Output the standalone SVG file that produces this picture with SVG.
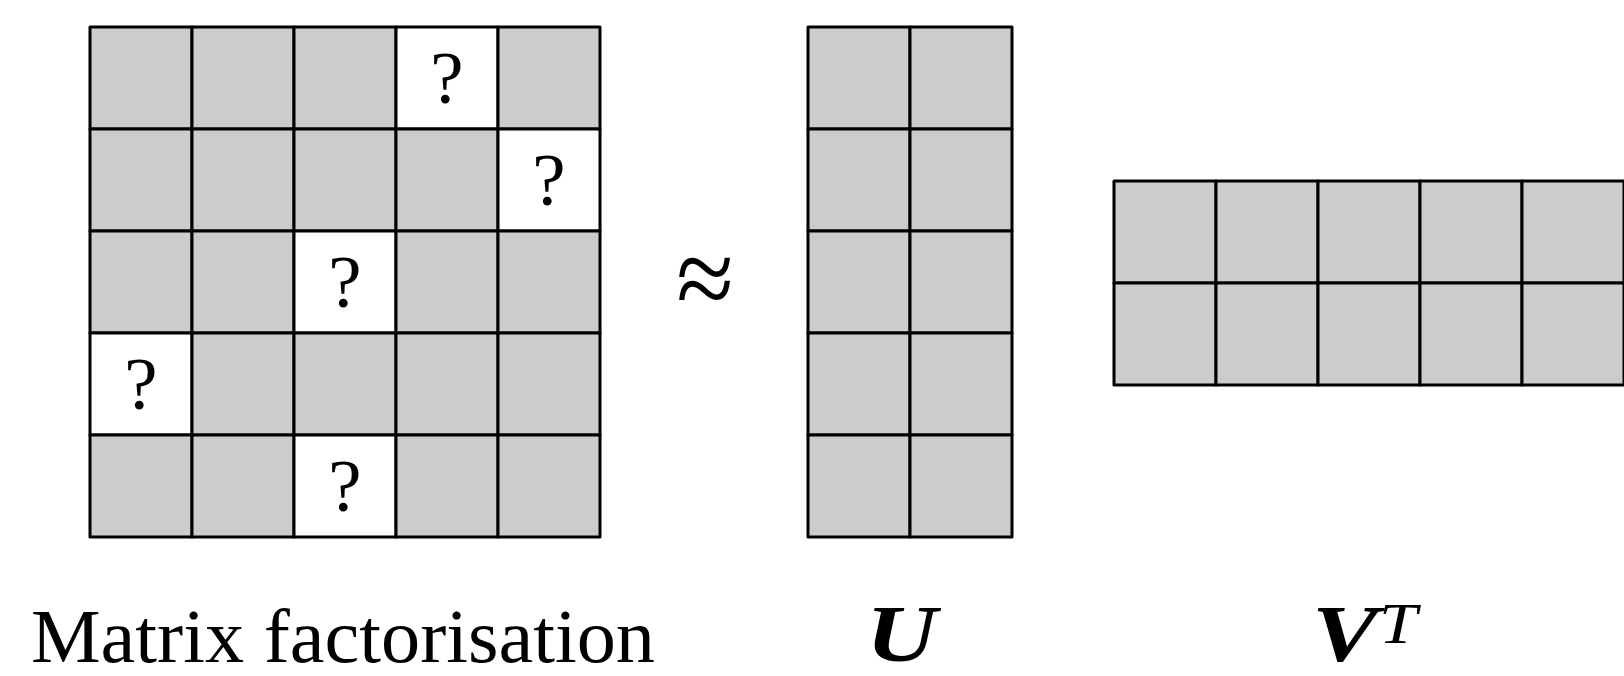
<svg xmlns="http://www.w3.org/2000/svg" width="1624" height="676" viewBox="0 0 1624 676">
<style>
.c{fill:#cccccc;stroke:#000;stroke-width:3;stroke-linejoin:round}
.w{fill:#ffffff;stroke:#000;stroke-width:3;stroke-linejoin:round}
.q{font-family:"Liberation Serif","DejaVu Serif",serif;font-size:75px;text-anchor:middle;fill:#000}
.lbl{font-family:"Liberation Serif","DejaVu Serif",serif;fill:#000}
</style>
<rect width="1624" height="676" fill="#fff"/>
<g id="matrix-R">
<rect class="c" x="90" y="27" width="102" height="102"/>
<rect class="c" x="192" y="27" width="102" height="102"/>
<rect class="c" x="294" y="27" width="102" height="102"/>
<rect class="w" x="396" y="27" width="102" height="102"/>
<rect class="c" x="498" y="27" width="102" height="102"/>
<rect class="c" x="90" y="129" width="102" height="102"/>
<rect class="c" x="192" y="129" width="102" height="102"/>
<rect class="c" x="294" y="129" width="102" height="102"/>
<rect class="c" x="396" y="129" width="102" height="102"/>
<rect class="w" x="498" y="129" width="102" height="102"/>
<rect class="c" x="90" y="231" width="102" height="102"/>
<rect class="c" x="192" y="231" width="102" height="102"/>
<rect class="w" x="294" y="231" width="102" height="102"/>
<rect class="c" x="396" y="231" width="102" height="102"/>
<rect class="c" x="498" y="231" width="102" height="102"/>
<rect class="w" x="90" y="333" width="102" height="102"/>
<rect class="c" x="192" y="333" width="102" height="102"/>
<rect class="c" x="294" y="333" width="102" height="102"/>
<rect class="c" x="396" y="333" width="102" height="102"/>
<rect class="c" x="498" y="333" width="102" height="102"/>
<rect class="c" x="90" y="435" width="102" height="102"/>
<rect class="c" x="192" y="435" width="102" height="102"/>
<rect class="w" x="294" y="435" width="102" height="102"/>
<rect class="c" x="396" y="435" width="102" height="102"/>
<rect class="c" x="498" y="435" width="102" height="102"/>
<text class="q" x="447" y="103">?</text>
<text class="q" x="549" y="205">?</text>
<text class="q" x="345" y="307">?</text>
<text class="q" x="141" y="409">?</text>
<text class="q" x="345" y="511">?</text>
</g>
<g id="approx" transform="translate(705,277) scale(1.05,1.15)">
<text class="lbl" x="0" y="35" font-size="100" text-anchor="middle">≈</text>
</g>
<g id="matrix-U">
<rect class="c" x="808" y="27" width="102" height="102"/>
<rect class="c" x="910" y="27" width="102" height="102"/>
<rect class="c" x="808" y="129" width="102" height="102"/>
<rect class="c" x="910" y="129" width="102" height="102"/>
<rect class="c" x="808" y="231" width="102" height="102"/>
<rect class="c" x="910" y="231" width="102" height="102"/>
<rect class="c" x="808" y="333" width="102" height="102"/>
<rect class="c" x="910" y="333" width="102" height="102"/>
<rect class="c" x="808" y="435" width="102" height="102"/>
<rect class="c" x="910" y="435" width="102" height="102"/>
</g>
<g id="matrix-VT">
<rect class="c" x="1114" y="181" width="102" height="102"/>
<rect class="c" x="1216" y="181" width="102" height="102"/>
<rect class="c" x="1318" y="181" width="102" height="102"/>
<rect class="c" x="1420" y="181" width="102" height="102"/>
<rect class="c" x="1522" y="181" width="102" height="102"/>
<rect class="c" x="1114" y="283" width="102" height="102"/>
<rect class="c" x="1216" y="283" width="102" height="102"/>
<rect class="c" x="1318" y="283" width="102" height="102"/>
<rect class="c" x="1420" y="283" width="102" height="102"/>
<rect class="c" x="1522" y="283" width="102" height="102"/>
</g>
<g id="labels">
<text class="lbl" x="31" y="662" font-size="77" textLength="624" lengthAdjust="spacingAndGlyphs">Matrix factorisation</text>
<text class="lbl" x="866" y="661" font-size="80" font-weight="bold" font-style="italic" textLength="71" lengthAdjust="spacingAndGlyphs">U</text>
<text class="lbl" x="1312" y="661" font-size="80" font-weight="bold" font-style="italic" textLength="66" lengthAdjust="spacingAndGlyphs">V</text>
<text class="lbl" x="1379" y="643" font-size="56" font-style="italic" textLength="38" lengthAdjust="spacingAndGlyphs">T</text>
</g>
</svg>
